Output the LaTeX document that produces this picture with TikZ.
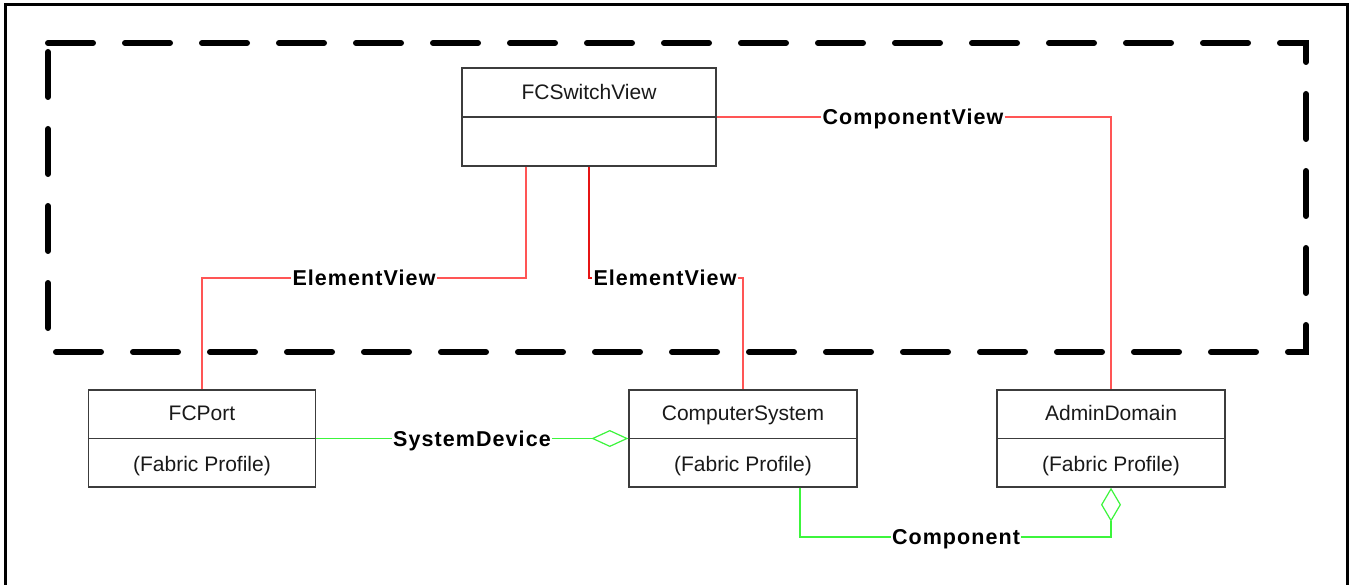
\documentclass[tikz,border=0pt]{standalone}
\usepackage{fontspec}
\setmainfont{Liberation Sans}
\newfontfamily\lblfont[LetterSpace=5]{Liberation Sans}
\usetikzlibrary{arrows.meta,calc}
\definecolor{boxc}{RGB}{60,60,60}
\definecolor{lred}{RGB}{255,85,85}
\definecolor{dred}{RGB}{230,20,20}
\definecolor{lgreen}{RGB}{60,245,60}
\begin{document}
\begin{tikzpicture}[x=1pt,y=-1pt,
  classbox/.style={draw=boxc,line width=1.4pt,minimum height=97pt,inner sep=0pt},
  ctext/.style={inner sep=0pt,font=\fontsize{21}{24}\selectfont,text=black!90,text height=15pt,text depth=0pt},
  lbl/.style={inner sep=1pt,font=\lblfont\bfseries\fontsize{21.5}{24}\selectfont,text height=15pt,text depth=0pt},
  redline/.style={draw=lred,line width=1.2pt},
  darkredline/.style={draw=dred,line width=1.2pt},
  greenline/.style={draw=lgreen,line width=1.2pt},
  dashbox/.style={draw=black,line width=6pt,line cap=round,dash pattern=on 45pt off 32pt}
]
\useasboundingbox (0,0) rectangle (1351,585);
% outer frame
\draw[line width=3pt] (5,600) -- (5,5) -- (1347,5) -- (1347,600);
% dashed boundary
\draw[dashbox] (48,43) -- (1306,43) -- (1306,352) -- (48,352) -- cycle;

% classes
\node[classbox,minimum width=254pt,minimum height=98pt] (fcsv) at (589,117) {};
\node[ctext] (fcsvname) at (589,92) {FCSwitchView};
\draw[draw=boxc,line width=1.4pt] (fcsv.west) -- (fcsv.east);

\node[classbox,minimum width=227pt] (fcport) at (202,438.5) {};
\node[ctext] (fcportname) at (202,413) {FCPort};
\node[ctext] (fcportprof) at (202,464) {(Fabric Profile)};
\draw[draw=boxc,line width=1.4pt] (fcport.west) -- (fcport.east);

\node[classbox,minimum width=228pt] (cs) at (743,438.5) {};
\node[ctext] (csname) at (743,413) {ComputerSystem};
\node[ctext] (csprof) at (743,464) {(Fabric Profile)};
\draw[draw=boxc,line width=1.4pt] (cs.west) -- (cs.east);

\node[classbox,minimum width=228pt] (ad) at (1111,438.5) {};
\node[ctext] (adname) at (1111,413) {AdminDomain};
\node[ctext] (adprof) at (1111,464) {(Fabric Profile)};
\draw[draw=boxc,line width=1.4pt] (ad.west) -- (ad.east);

% association labels
\node[lbl] (ev1) at (364,278) {ElementView};
\node[lbl] (ev2) at (665,278) {ElementView};
\node[lbl] (cv) at (913,117) {ComponentView};
\node[lbl] (sd) at (472,438.5) {SystemDevice};
\node[lbl] (comp) at (956,537) {Component};

% red associations
\draw[redline] ([xshift=-63pt]fcsv.south) |- (ev1.east);
\draw[redline] (ev1.west) -| (fcport.north);
\draw[darkredline] (fcsv.south) |- (ev2.west);
\draw[redline] (ev2.east) -| (cs.north);
\draw[redline] (fcsv.east) -- (cv.west);
\draw[redline] (cv.east) -| (ad.north);

% green aggregations
\draw[greenline] (fcport.east) -- (sd.west);
\draw[greenline,-{Diamond[open,fill=white,length=37pt,width=17pt]}] (sd.east) -- (cs.west);
\draw[greenline] ([xshift=57pt]cs.south) |- (comp.west);
\draw[greenline,-{Diamond[open,fill=white,length=34pt,width=20pt]}] (comp.east) -| (ad.south);
\end{tikzpicture}
\end{document}
